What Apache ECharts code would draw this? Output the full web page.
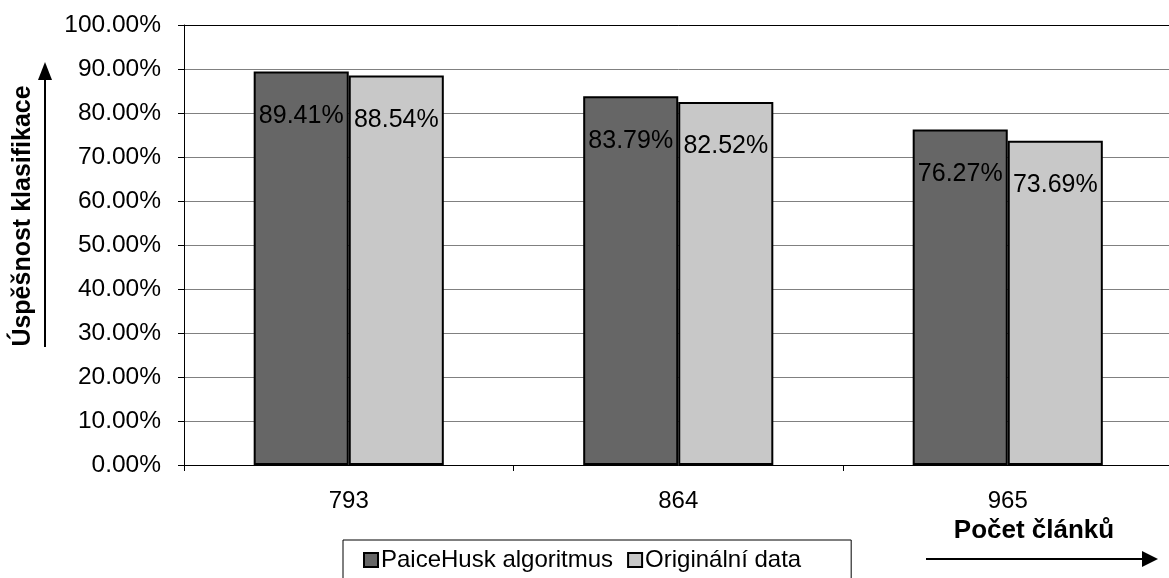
<!DOCTYPE html>
<html>
<head>
<meta charset="utf-8">
<script src="https://cdn.jsdelivr.net/npm/echarts@6/dist/echarts.min.js"></script>
<style>
  html, body { margin: 0; padding: 0; background: #fff; overflow: hidden; }
  /* the plot area runs a little past the visible right edge */
  #chart { width: 1182px; height: 578px; }
</style>
</head>
<body>
<div id="chart"></div>
<script>
// Počet článků (category axis)
const categories = ['793', '864', '965'];
// Success rate of classification, in percent
const paiceHusk = [89.41, 83.79, 76.27];
const original = [88.54, 82.52, 73.69];
const seriesNames = ['PaiceHusk algoritmus', 'Originální data'];

const FONT = '"Liberation Sans", Arial, sans-serif';

const chart = echarts.init(document.getElementById('chart'));

const barLabel = {
  show: true,
  position: 'insideTop',
  distance: 32,
  color: '#000',
  fontFamily: FONT,
  fontSize: 25,
  formatter: p => p.value.toFixed(2) + '%'
};

chart.setOption({
  animation: false,
  grid: { left: 184, right: 9.5, top: 25, bottom: 113 },
  legend: {
    left: 343, top: 540,
    padding: [8, 50, 12, 20],
    borderColor: '#000', borderWidth: 1,
    itemWidth: 14, itemHeight: 14, itemGap: 14,
    icon: 'rect',
    textStyle: { fontFamily: FONT, fontSize: 24, color: '#000', padding: [0, 0, 0, -2] },
    data: seriesNames
  },
  xAxis: [
    {
      type: 'category',
      data: categories,
      axisLine: { lineStyle: { color: '#000', width: 1 } },
      axisTick: { show: true, length: 6, lineStyle: { color: '#000' } },
      axisLabel: { color: '#000', fontFamily: FONT, fontSize: 24, margin: 24 }
    },
    {
      // top edge of the plot area
      type: 'category', position: 'top', data: categories, z: 5,
      axisLine: { lineStyle: { color: '#000', width: 1 } },
      axisTick: { show: false }, axisLabel: { show: false }
    }
  ],
  yAxis: {
    type: 'value',
    min: 0, max: 100, interval: 10,
    axisLine: { show: true, lineStyle: { color: '#000', width: 1 } },
    axisTick: { show: true, length: 6, lineStyle: { color: '#000' } },
    splitLine: { lineStyle: { color: '#808080', width: 1 } },
    axisLabel: {
      color: '#000', fontFamily: FONT, fontSize: 24.5, margin: 23,
      formatter: v => v.toFixed(2) + '%'
    }
  },
  series: [
    {
      name: seriesNames[0], type: 'bar', data: paiceHusk,
      barGap: '0%', barCategoryGap: '42.3%',
      itemStyle: { color: '#666666', borderColor: '#000', borderWidth: 2 },
      label: barLabel
    },
    {
      name: seriesNames[1], type: 'bar', data: original,
      itemStyle: { color: '#c8c8c8', borderColor: '#000', borderWidth: 2 },
      label: barLabel
    }
  ],
  graphic: [
    // vertical axis title with its arrow
    {
      type: 'text', x: 23, y: 216, rotation: Math.PI / 2,
      style: {
        text: 'Úspěšnost klasifikace', fill: '#000',
        font: 'bold 25px ' + FONT,
        align: 'center', verticalAlign: 'middle'
      }
    },
    {
      type: 'line',
      shape: { x1: 45, y1: 347, x2: 45, y2: 76 },
      style: { stroke: '#000', lineWidth: 2 }
    },
    {
      type: 'polygon',
      shape: { points: [[45, 62], [38, 80], [52, 80]] },
      style: { fill: '#000' }
    },
    // horizontal axis title with its arrow
    {
      type: 'text', x: 1034, y: 531,
      style: {
        text: 'Počet článků', fill: '#000',
        font: 'bold 26px ' + FONT,
        align: 'center', verticalAlign: 'middle'
      }
    },
    {
      type: 'line',
      shape: { x1: 926, y1: 559, x2: 1144, y2: 559 },
      style: { stroke: '#000', lineWidth: 2 }
    },
    {
      type: 'polygon',
      shape: { points: [[1158, 559], [1142, 551], [1142, 567]] },
      style: { fill: '#000' }
    }
  ]
});
</script>
</body>
</html>
